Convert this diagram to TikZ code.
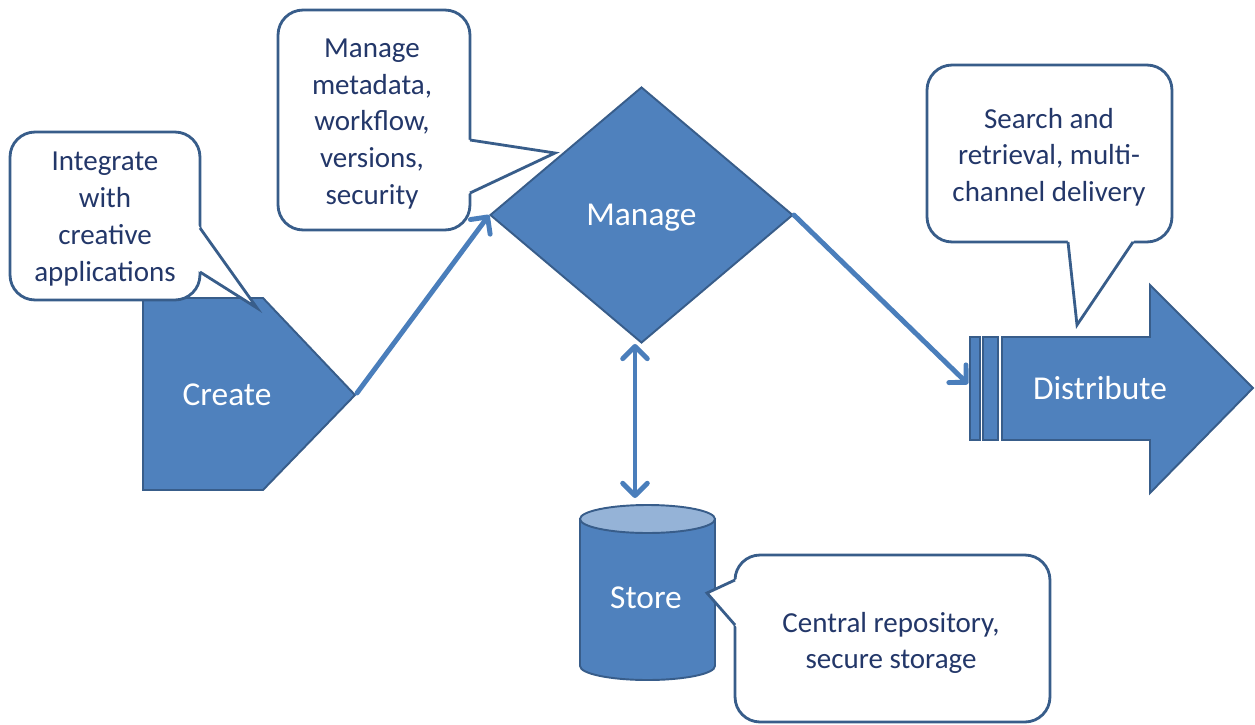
\documentclass[tikz,border=0pt]{standalone}
\usepackage{fontspec}
\setmainfont{Carlito}
\usetikzlibrary{shapes.geometric, arrows.meta, calc}
\definecolor{boxblue}{RGB}{79,129,189}
\definecolor{edgeblue}{RGB}{56,93,138}
\definecolor{lineblue}{RGB}{74,126,187}
\definecolor{topblue}{RGB}{149,179,215}
\definecolor{notenavy}{RGB}{35,55,105}
\tikzstyle{stage} = [draw=edgeblue, fill=boxblue, line width=1.1pt]
\tikzstyle{stagetext} = [text=white, font=\fontsize{19}{23}\selectfont]
\tikzstyle{note} = [draw=edgeblue, fill=white, line width=1.6pt,
    rounded corners=0.5cm, inner sep=0pt]
\tikzstyle{notetext} = [align=center, text=notenavy, inner sep=0pt,
    font=\fontsize{16.5}{20.9}\selectfont]
\tikzstyle{tail} = [draw=edgeblue, line width=1.6pt]
\tikzstyle{link} = [draw=lineblue, line width=2.8pt, line cap=round,
    -{Straight Barb[length=7pt, width=14pt, round]}]
\tikzstyle{link both} = [link,
    {Straight Barb[length=7pt, width=14pt, round]}-{Straight Barb[length=7pt, width=14pt, round]}]

\begin{document}
\begin{tikzpicture}[x=0.02cm, y=-0.02cm]
    \useasboundingbox (0,0) rectangle (1255,724);
    % We start by placing the blocks
    \draw [stage] (143,298) -- (263,298) -- (355,395) -- (263,490) -- (143,490) -- cycle;
    \node [stagetext] (create) at (227,395) {Create};
    \coordinate (create tip) at (357,393);

    \node [stage, stagetext, diamond, inner sep=0pt, text depth=0pt,
        minimum width=6.06cm, minimum height=5.12cm] (manage) at (641.5,215) {Manage};

    \draw [stage] (970,337) rectangle (980,440);
    \draw [stage] (983,337) rectangle (998,440);
    \draw [stage] (1002,337) -- (1150,337) -- (1150,285) -- (1253,388)
        -- (1150,493) -- (1150,440) -- (1002,440) -- cycle;
    \node [stagetext] (distribute) at (1100,388) {Distribute};
    \coordinate (dist in) at (968,384);

    % the store is a cylinder, its lid a bit lighter
    \draw [stage] (580,519) -- (580,666) arc [start angle=180, end angle=0,
        x radius=67.5, y radius=14] -- (715,519) -- cycle;
    \draw [stage, fill=topblue] (647.5,519) ellipse [x radius=67.5, y radius=14];
    \node [stagetext] (store) at (646,598) {Store};
    \coordinate (store top) at (635,498);

    % Then the speech bubbles
    \node [note, minimum width=3.8cm, minimum height=3.36cm] (create note) at (105,216) {};
    \coordinate (t1) at (257,308);
    \coordinate (a1) at (200,228);
    \coordinate (b1) at (200,272);
    \fill [white] ($(t1)!1.15!(a1)$) -- (t1) -- ($(t1)!1.15!(b1)$) -- cycle;
    \draw [tail] (a1) -- (t1) -- (b1);
    \node [notetext] (create text) at (105,219) {Integrate\\with\\creative\\applications};

    \node [note, minimum width=3.84cm, minimum height=4.4cm] (manage note) at (374,120) {};
    \coordinate (t2) at (555,153);
    \coordinate (a2) at (470,140);
    \coordinate (b2) at (470,193);
    \fill [white] ($(t2)!1.15!(a2)$) -- (t2) -- ($(t2)!1.15!(b2)$) -- cycle;
    \draw [tail] (a2) -- (t2) -- (b2);
    \node [notetext] (manage text) at (372,124) {Manage\\metadata,\\workflow,\\versions,\\security};

    \node [note, minimum width=4.9cm, minimum height=3.54cm] (dist note) at (1049.5,153.5) {};
    \coordinate (t3) at (1077,325);
    \coordinate (a3) at (1068,242);
    \coordinate (b3) at (1133,242);
    \fill [white] ($(t3)!1.15!(a3)$) -- (t3) -- ($(t3)!1.15!(b3)$) -- cycle;
    \draw [tail] (a3) -- (t3) -- (b3);
    \node [notetext] (dist text) at (1049,157) {Search and\\retrieval, multi-\\channel delivery};

    \node [note, minimum width=6.3cm, minimum height=3.34cm] (store note) at (892.5,638.5) {};
    \coordinate (t4) at (707,593);
    \coordinate (a4) at (735,580);
    \coordinate (b4) at (735,625);
    \fill [white] ($(t4)!1.3!(a4)$) -- (t4) -- ($(t4)!1.3!(b4)$) -- cycle;
    \draw [tail] (a4) -- (t4) -- (b4);
    \node [notetext] (store text) at (891,643) {Central repository,\\secure storage};

    % Once the nodes are placed, connecting them is easy.
    \draw [link] (create tip) -- (manage.west);
    \draw [link] (manage.east) -- (dist in);
    \draw [link both] (store top |- manage.south) -- (store top);
\end{tikzpicture}
\end{document}
